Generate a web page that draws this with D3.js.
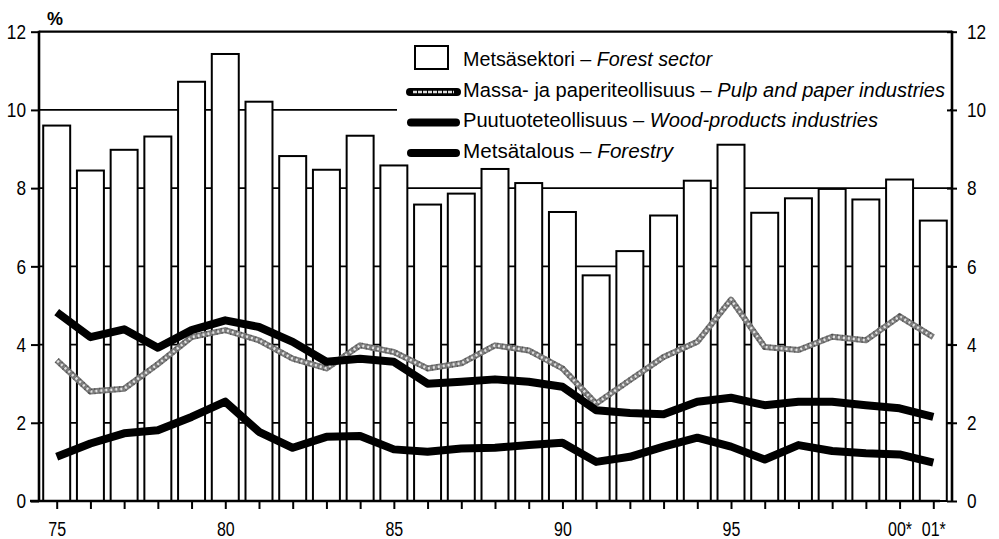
<!DOCTYPE html>
<html><head><meta charset="utf-8">
<script src="https://cdn.jsdelivr.net/npm/d3@7/dist/d3.min.js"></script>
<style>
html,body{margin:0;padding:0;background:#fff;}
svg{display:block;}
</style></head>
<body>
<svg id="chart" width="999" height="539"></svg>
<script>
// ---------------- data ----------------
const years = ["75","76","77","78","79","80","81","82","83","84","85","86","87","88","89","90","91","92","93","94","95","96","97","98","99","00*","01*"];
const tickLabels = ["75","80","85","90","95","00*","01*"];
const yTicks = [0,2,4,6,8,10,12];
const forestSector = [9.6,8.45,8.98,9.32,10.72,11.43,10.21,8.82,8.47,9.34,8.58,7.58,7.86,8.49,8.13,7.39,5.77,6.39,7.30,8.19,9.11,7.37,7.74,7.98,7.71,8.22,7.17];
const pulpPaper   = [3.6,2.8,2.87,3.5,4.19,4.37,4.11,3.64,3.39,3.98,3.81,3.39,3.52,3.98,3.85,3.39,2.49,3.09,3.68,4.07,5.15,3.94,3.86,4.2,4.11,4.72,4.19];
const woodProducts= [4.83,4.19,4.39,3.92,4.37,4.62,4.45,4.07,3.56,3.64,3.56,3.0,3.05,3.11,3.05,2.92,2.32,2.25,2.22,2.54,2.64,2.45,2.54,2.54,2.45,2.37,2.15];
const forestry    = [1.13,1.47,1.73,1.81,2.15,2.54,1.77,1.36,1.64,1.66,1.32,1.26,1.34,1.36,1.43,1.49,1.0,1.13,1.39,1.62,1.39,1.06,1.43,1.28,1.22,1.19,0.98];
const legendItems = [
  {fi:"Metsäsektori", en:"Forest sector", type:"bar"},
  {fi:"Massa- ja paperiteollisuus", en:"Pulp and paper industries", type:"pulp"},
  {fi:"Puutuoteteollisuus", en:"Wood-products industries", type:"line"},
  {fi:"Metsätalous", en:"Forestry", type:"line"}
];

// ---------------- setup ----------------
const svg = d3.select("#chart");
const pLeft = 39, pRight = 952, pTop = 31.7, pBottom = 501;
const FONT = "'Liberation Sans Narrow','Arial Narrow','Liberation Sans',Arial,sans-serif";

function hasNarrow(){
  const t = svg.append("text").attr("x",-1000).attr("y",-1000).style("font-size","40px")
    .style("font-family","'Liberation Sans Narrow',monospace").text("Massa paperi 1234");
  const w1 = t.node().getComputedTextLength();
  t.style("font-family","monospace");
  const w2 = t.node().getComputedTextLength();
  t.remove();
  return Math.abs(w1-w2) > 0.5;
}
const narrow = hasNarrow();
const sq = narrow ? 1 : 0.82;

const x = d3.scalePoint().domain(years).range([56.7, 933.3]);
const step = x.step();
const barW = step * 0.8;
const y = d3.scaleLinear().domain([0,12]).range([pBottom, pTop]);

// gridlines
const legendX0 = 397;
svg.append("g").selectAll("line").data(yTicks.filter(d=>d>0)).join("line")
  .attr("x1", pLeft).attr("x2", pRight)
  .attr("y1", d=>y(d)).attr("y2", d=>y(d))
  .attr("stroke","#000").attr("stroke-width", d=> d===12 ? 2.2 : 1.8);

// legend background (covers gridline 10)
svg.append("rect").attr("x", legendX0).attr("y", pTop+2).attr("width", pRight-2-legendX0).attr("height", 128)
  .attr("fill","#fff");

// bars
svg.append("g").selectAll("rect").data(forestSector).join("rect")
  .attr("x", (d,i)=>x(years[i]) - barW/2)
  .attr("width", barW)
  .attr("y", d=>y(d))
  .attr("height", d=>y(0)-y(d))
  .attr("fill","#fff").attr("stroke","#000").attr("stroke-width",2);

// lines
const line = d3.line().x((d,i)=>x(years[i])).y(d=>y(d));
svg.append("path").datum(pulpPaper).attr("d", line).attr("fill","none")
  .attr("stroke","#7a7a7a").attr("stroke-width",6).attr("stroke-linejoin","round");
svg.append("path").datum(pulpPaper).attr("d", line).attr("fill","none")
  .attr("stroke","#e2e2e2").attr("stroke-width",2.5).attr("stroke-dasharray","3 2").attr("stroke-linejoin","round");
svg.append("path").datum(pulpPaper).attr("d", line).attr("fill","none")
  .attr("stroke","#222").attr("stroke-width",6).attr("stroke-dasharray","1 4").attr("opacity",0.5);
svg.append("path").datum(woodProducts).attr("d", line).attr("fill","none")
  .attr("stroke","#000").attr("stroke-width",8).attr("stroke-linejoin","round");
svg.append("path").datum(forestry).attr("d", line).attr("fill","none")
  .attr("stroke","#000").attr("stroke-width",8).attr("stroke-linejoin","round");

// axes
function styleTicks(g, size){
  g.selectAll("text").style("font-family",FONT).style("font-size",size+"px").attr("fill","#000");
  if (sq !== 1) g.selectAll("text").each(function(){
    const t = d3.select(this);
    t.attr("transform", `scale(${sq},1)`).attr("x", (+t.attr("x")||0)/sq);
  });
  g.selectAll("line").attr("stroke","#000").attr("stroke-width",2);
}
const yLeft = svg.append("g").attr("transform",`translate(${pLeft},0)`)
  .call(d3.axisLeft(y).tickValues(yTicks).tickSize(8).tickSizeOuter(0).tickPadding(5).tickFormat(d3.format("d")));
yLeft.select(".domain").remove();
styleTicks(yLeft, 21);
svg.append("line").attr("x1",pLeft).attr("x2",pLeft).attr("y1",pBottom+1).attr("y2",pTop-1).attr("stroke","#000").attr("stroke-width",2.6);

const yRight = svg.append("g").attr("transform",`translate(${pRight},0)`)
  .call(d3.axisRight(y).tickValues(yTicks).tickSize(5).tickSizeOuter(0).tickPadding(10).tickFormat(d3.format("d")));
yRight.select(".domain").remove();
yRight.selectAll(".tick line").attr("x1",-5);
styleTicks(yRight, 21);
svg.append("line").attr("x1",pRight).attr("x2",pRight).attr("y1",pBottom+1).attr("y2",pTop-1).attr("stroke","#000").attr("stroke-width",2.6);

const xAxis = svg.append("g").attr("transform",`translate(0,${pBottom})`)
  .call(d3.axisBottom(x).tickSize(8).tickSizeOuter(0).tickPadding(13)
    .tickFormat(d => tickLabels.includes(d) ? d : ""));
xAxis.select(".domain").remove();
styleTicks(xAxis, 19.5);
svg.append("line").attr("x1",30).attr("x2",940).attr("y1",pBottom).attr("y2",pBottom).attr("stroke","#000").attr("stroke-width",2.6);

// % label
svg.append("text").attr("x",47).attr("y",25).text("%")
  .style("font-family","'Liberation Sans',Arial,sans-serif").style("font-size","18px").style("font-weight","bold");

// legend
const rowY = [58, 89, 119.5, 150];
const textW = [249, 482, 415, 210];
const lg = svg.append("g");
legendItems.forEach((it,i)=>{
  const cy = rowY[i];
  if (it.type==="bar"){
    lg.append("rect").attr("x",415).attr("y",cy-12).attr("width",33).attr("height",23)
      .attr("fill","#fff").attr("stroke","#000").attr("stroke-width",2);
  } else if (it.type==="pulp"){
    lg.append("line").attr("x1",410).attr("x2",457).attr("y1",cy+3).attr("y2",cy+3)
      .attr("stroke","#000").attr("stroke-width",8).attr("stroke-linecap","round");
    lg.append("line").attr("x1",413).attr("x2",454).attr("y1",cy+3).attr("y2",cy+3)
      .attr("stroke","#ddd").attr("stroke-width",2.5).attr("stroke-dasharray","4 1");
  } else {
    lg.append("line").attr("x1",411).attr("x2",456).attr("y1",cy+3).attr("y2",cy+3)
      .attr("stroke","#000").attr("stroke-width",8).attr("stroke-linecap","round");
  }
  const t = lg.append("text").attr("x",463).attr("y",cy+7.5)
    .style("font-family",FONT).style("font-size","20.5px").attr("fill","#000")
    .attr("textLength", textW[i]).attr("lengthAdjust","spacingAndGlyphs");
  t.append("tspan").text(it.fi + " – ");
  t.append("tspan").style("font-style","italic").text(it.en);
});
</script>
</body></html>
